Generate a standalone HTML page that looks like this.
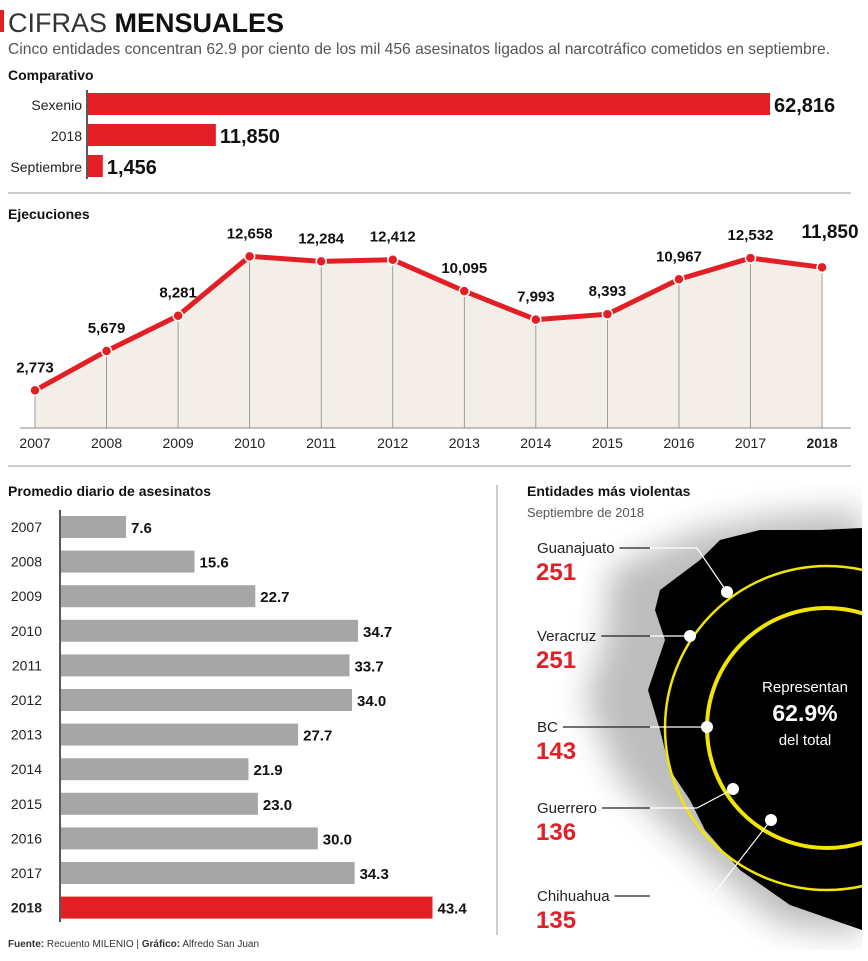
<!DOCTYPE html>
<html><head><meta charset="utf-8"><style>
body{margin:0;background:#fff;width:868px;height:956px;overflow:hidden;font-family:"Liberation Sans",sans-serif}
svg text{font-family:"Liberation Sans",sans-serif}
</style></head><body>
<svg id="s" width="868" height="956" viewBox="0 0 868 956">
<defs>
<filter id="blur" x="-50%" y="-50%" width="200%" height="200%"><feGaussianBlur stdDeviation="16"/></filter>
<clipPath id="rc"><rect x="500" y="470" width="362" height="480"/></clipPath>
</defs>
<rect x="0" y="10" width="4" height="22" fill="#e31e24"/>
<text x="8" y="32" font-size="27" fill="#333">CIFRAS <tspan font-weight="bold" fill="#111">MENSUALES</tspan></text>
<text x="8" y="54" font-size="16" fill="#555" textLength="822" lengthAdjust="spacingAndGlyphs">Cinco entidades concentran 62.9 por ciento de los mil 456 asesinatos ligados al narcotráfico cometidos en septiembre.</text>
<text x="8" y="80" font-size="14" font-weight="bold" fill="#111">Comparativo</text>
<g id="comp"></g>
<line x1="8" y1="193" x2="851" y2="193" stroke="#999"/>
<text x="8" y="219" font-size="14" font-weight="bold" fill="#111">Ejecuciones</text>
<g id="line"></g>
<line x1="8" y1="466" x2="851" y2="466" stroke="#999"/>
<text x="8" y="496" font-size="14" font-weight="bold" fill="#111">Promedio diario de asesinatos</text>
<g id="avg"></g>
<line x1="497" y1="485" x2="497" y2="935" stroke="#999"/>
<text x="8" y="947" font-size="10" fill="#333"><tspan font-weight="bold">Fuente:</tspan> Recuento MILENIO  |  <tspan font-weight="bold">Gráfico:</tspan> Alfredo San Juan</text>
<g clip-path="url(#rc)">
<path d="M610,570 L700,530 L780,515 L862,510 L862,935 L780,925 L725,880 L670,830 L620,780 L585,700 L605,640 Z" fill="#888" opacity="0.55" filter="url(#blur)"/>
<path d="M660,590 L700,560 L720,540 L760,530 L820,530 L862,528 L862,930 L790,905 L740,870 L705,830 L690,800 L670,770 L660,730 L648,690 L665,640 L655,610 Z" fill="#000"/>
<circle cx="827" cy="728" r="162" fill="none" stroke="#f2e500" stroke-width="2.5"/>
<circle cx="827" cy="728" r="120" fill="none" stroke="#f2e500" stroke-width="4"/>
</g>
<text x="527" y="496" font-size="14" font-weight="bold" fill="#111">Entidades más violentas</text>
<text x="527" y="517" font-size="13" fill="#555">Septiembre de 2018</text>
<g id="ent"></g>
<text x="805" y="692" font-size="15" fill="#fff" text-anchor="middle">Representan</text>
<text x="805" y="721" font-size="23" font-weight="bold" fill="#fff" text-anchor="middle">62.9%</text>
<text x="805" y="745" font-size="15" fill="#fff" text-anchor="middle">del total</text>
</svg>
<script>
const compCats=["Sexenio","2018","Septiembre"];
const compVals=[62816,11850,1456];
const compLabels=["62,816","11,850","1,456"];
const lineYears=["2007","2008","2009","2010","2011","2012","2013","2014","2015","2016","2017","2018"];
const lineVals=[2773,5679,8281,12658,12284,12412,10095,7993,8393,10967,12532,11850];
const lineLabels=["2,773","5,679","8,281","12,658","12,284","12,412","10,095","7,993","8,393","10,967","12,532","11,850"];
const avgYears=["2007","2008","2009","2010","2011","2012","2013","2014","2015","2016","2017","2018"];
const avgVals=[7.6,15.6,22.7,34.7,33.7,34.0,27.7,21.9,23.0,30.0,34.3,43.4];
const entNames=["Guanajuato","Veracruz","BC","Guerrero","Chihuahua"];
const entVals=[251,251,143,136,135];
const NS="http://www.w3.org/2000/svg";
function mk(p,t,a,txt){const e=document.createElementNS(NS,t);for(const k in a)e.setAttribute(k,a[k]);if(txt!==undefined)e.textContent=txt;p.appendChild(e);return e;}
// comparativo
const cg=document.getElementById('comp');
const cx=v=>87+v*0.010873;
let ax=mk(cg,'line',{x1:87,y1:90,x2:87,y2:179,stroke:'#222','stroke-width':1.5});


compCats.forEach((c,i)=>{const y=93+i*31;
 let r=mk(cg,'rect',{x:88,y:y,width:cx(compVals[i])-88,height:22,fill:'#e31e24'});
 
 
 let l=mk(cg,'text',{x:82,y:y+17,'font-size':14,'text-anchor':'end',fill:'#222'},c);
 
 
 let v=mk(cg,'text',{x:cx(compVals[i])+4,y:y+19,'font-size':20,'font-weight':'bold',fill:'#111'},compLabels[i]);
 
 
});
// line
const lg=document.getElementById('line');
const lx=i=>35+i*71.55, ly=v=>428-v*0.01356;
let pts=lineVals.map((v,i)=>lx(i)+','+ly(v));
let area=mk(lg,'polygon',{points:lx(0)+',428 '+pts.join(' ')+' '+lx(11)+',428',fill:'#f3efe8'});


lineYears.forEach((y,i)=>{
 let g=mk(lg,'line',{x1:lx(i),y1:ly(lineVals[i]),x2:lx(i),y2:428,stroke:'#888','stroke-width':0.8});
 
 
 let t=mk(lg,'text',{x:lx(i),y:448,'font-size':14,'font-weight':i==11?'bold':'normal','text-anchor':'middle',fill:'#222'},y);
 
 
});
let bl=mk(lg,'line',{x1:20,y1:428,x2:851,y2:428,stroke:'#888'});


let pl=mk(lg,'polyline',{points:pts.join(' '),fill:'none',stroke:'#e31e24','stroke-width':5,'stroke-linejoin':'round'});


lineVals.forEach((v,i)=>{
 let c=mk(lg,'circle',{cx:lx(i),cy:ly(v),r:5,fill:'#e31e24',stroke:'#fff','stroke-width':1.5});
 
 
 let big=i==11;
 let t=mk(lg,'text',{x:big?lx(i)+8:lx(i),y:big?238:ly(v)-18,'font-size':big?19:15,'font-weight':'bold','text-anchor':'middle',fill:'#111'},lineLabels[i]);
 
 
});
// avg
const ag=document.getElementById('avg');
const aw=v=>v*8.56;
let aax=mk(ag,'line',{x1:60,y1:510,x2:60,y2:922,stroke:'#222','stroke-width':1.5});


avgYears.forEach((y,i)=>{const cy=527+i*34.6;const last=i==11;
 let r=mk(ag,'rect',{x:61,y:cy-11,width:aw(avgVals[i]),height:22,fill:last?'#e31e24':'#a6a6a6'});
 
 
 let t=mk(ag,'text',{x:42,y:cy+5,'font-size':14,'font-weight':last?'bold':'normal','text-anchor':'end',fill:'#222'},y);
 
 
 let v=mk(ag,'text',{x:61+aw(avgVals[i])+5,y:cy+6,'font-size':15,'font-weight':'bold',fill:'#111'},avgVals[i].toFixed(1));
 
 
});
// entidades
const eg=document.getElementById('ent');
const eY=[548,636,727,808,896];
const eLines=["697,548 727,592","675,636 690,636","707,727","697,808 733,789","712,896 771,820"];
const eDots=[[727,592],[690,636],[707,727],[733,789],[771,820]];
entNames.forEach((n,i)=>{
 let t=mk(eg,'text',{x:537,y:eY[i]+5,'font-size':15,fill:'#222'},n);
 
 
 let v=mk(eg,'text',{x:536,y:eY[i]+32,'font-size':24,'font-weight':'bold',fill:'#e31e24'},String(entVals[i]));
 
 
 const startX=537+t.getComputedTextLength()+5;
 const firstPt=eLines[i].split(' ')[0].split(',');
 let k=mk(eg,'line',{x1:startX,y1:eY[i],x2:Math.min(+firstPt[0],650),y2:eY[i],stroke:'#222','stroke-width':1.2});
 
 
 let p=mk(eg,'polyline',{points:'650,'+eY[i]+' '+eLines[i],fill:'none',stroke:'#fff','stroke-width':1.2});
 
 
 let d=mk(eg,'circle',{cx:eDots[i][0],cy:eDots[i][1],r:6,fill:'#fff'});
 
 
});
</script>
</body></html>
